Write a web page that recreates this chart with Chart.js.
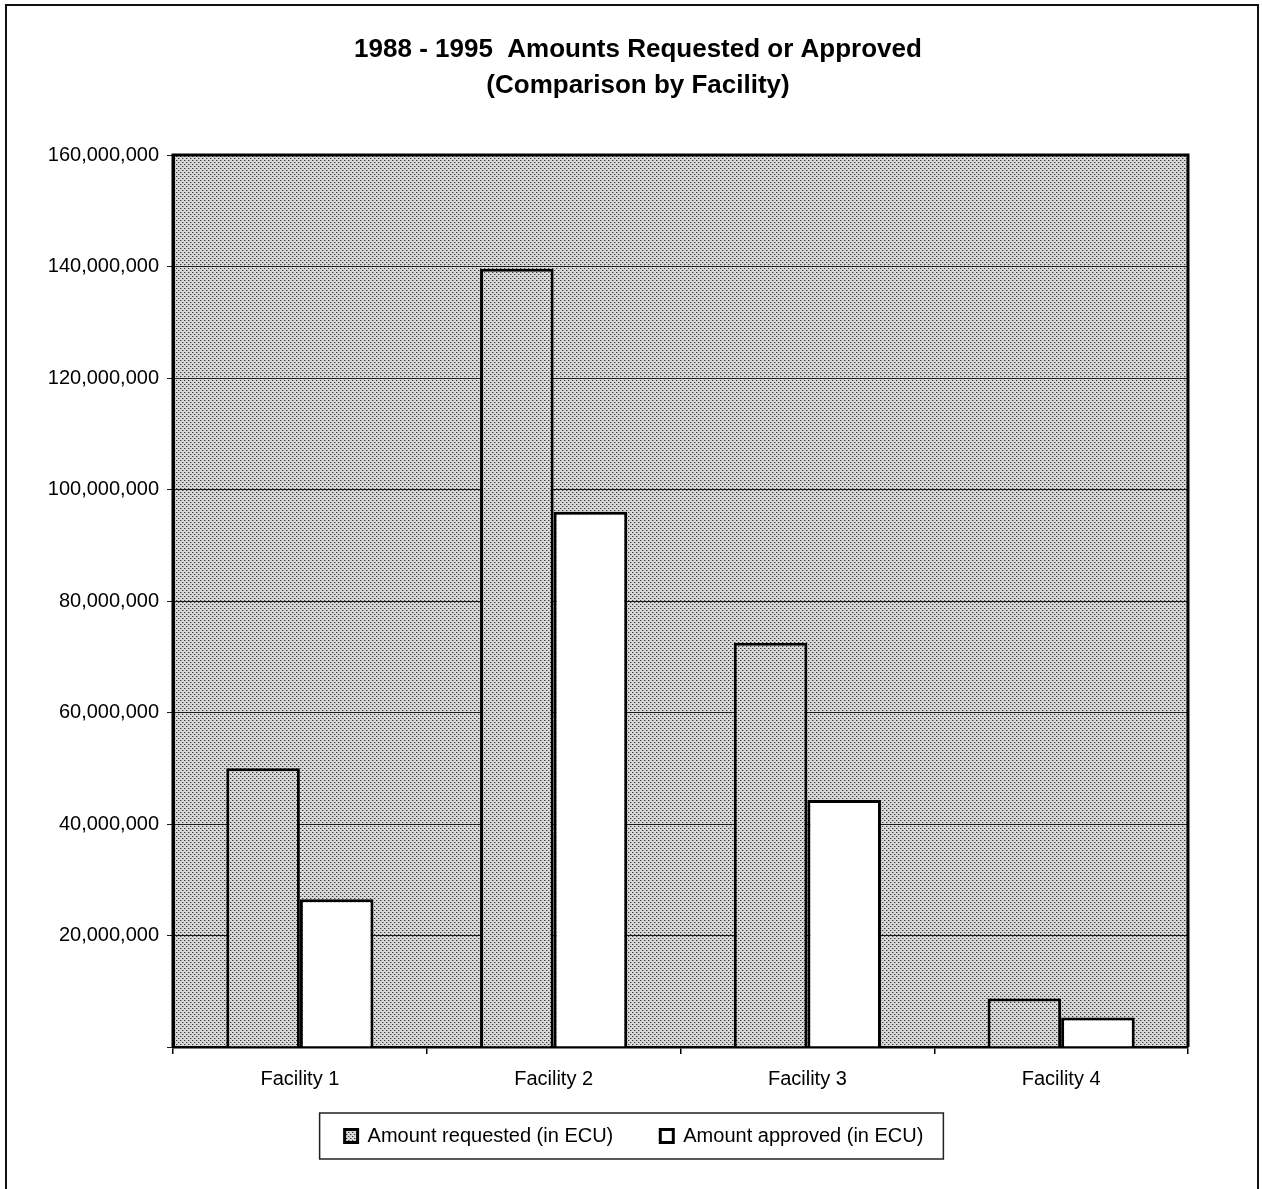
<!DOCTYPE html>
<html>
<head>
<meta charset="utf-8">
<script src="https://cdn.jsdelivr.net/npm/chart.js@4/dist/chart.umd.min.js"></script>
<style>
  html, body { margin: 0; padding: 0; background: #fff; }
  #wrap { position: relative; width: 1262px; height: 1189px; }
</style>
</head>
<body>
<div id="wrap"><canvas id="c" width="1262" height="1189"></canvas></div>
<script>
// Categories and series (ECU)
const facilities = ['Facility 1', 'Facility 2', 'Facility 3', 'Facility 4'];
const amountRequested = [50000000, 139600000, 72500000, 8700000];
const amountApproved = [26500000, 96000000, 44300000, 5300000];
const seriesNames = ['Amount requested (in ECU)', 'Amount approved (in ECU)'];
const titleLines = ['1988 - 1995  Amounts Requested or Approved', '(Comparison by Facility)'];
const yMax = 160000000;
const yStep = 20000000;

const FONT = '"Liberation Sans", Arial, sans-serif';

// Halftone-like dotted fill
function makeDotPattern() {
  const t = document.createElement('canvas');
  t.width = 4; t.height = 4;
  const g = t.getContext('2d');
  g.fillStyle = '#d8d8d8';
  g.fillRect(0, 0, 4, 4);
  g.fillStyle = '#383838';
  g.fillRect(0, 0, 1, 1);
  g.fillRect(2, 2, 1, 1);
  g.fillStyle = '#a0a0a0';
  g.fillRect(1, 0, 1, 1);
  g.fillRect(3, 2, 1, 1);
  return document.getElementById('c').getContext('2d').createPattern(t, 'repeat');
}
const dots = makeDotPattern();

const fmt = v => v.toString().replace(/\B(?=(\d{3})+(?!\d))/g, ',');

// Page frame, title, plot background, plot frame and legend box
const decorations = {
  id: 'decorations',
  afterLayout(chart) {
    // centre the legend under the page rather than under the plot
    const lg = chart.legend;
    const dx = 40, dy = -16;
    lg.left += dx; lg.right += dx;
    lg.top += dy; lg.bottom += dy;
  },
  beforeDraw(chart) {
    const { ctx, chartArea: a } = chart;
    ctx.save();
    ctx.fillStyle = dots;
    ctx.fillRect(a.left, a.top, a.right - a.left, a.bottom - a.top);
    ctx.restore();
  },
  afterDatasetsDraw(chart) {
    const { ctx, chartArea: a } = chart;
    ctx.save();
    ctx.strokeStyle = '#000';
    ctx.lineWidth = 3;
    ctx.beginPath();
    ctx.moveTo(a.left, a.bottom);
    ctx.lineTo(a.left, a.top);
    ctx.lineTo(a.right, a.top);
    ctx.lineTo(a.right, a.bottom);
    ctx.stroke();
    ctx.restore();
  },
  afterDraw(chart) {
    const { ctx } = chart;
    ctx.save();
    // title, centred on the page
    ctx.fillStyle = '#000';
    ctx.font = 'bold 26px ' + FONT;
    ctx.textAlign = 'center';
    ctx.textBaseline = 'middle';
    titleLines.forEach((line, i) => ctx.fillText(line, 638, 50 + i * 36));
    // page frame
    ctx.strokeStyle = '#111';
    ctx.lineWidth = 2;
    ctx.beginPath();
    ctx.moveTo(6, 1189);
    ctx.lineTo(6, 5);
    ctx.lineTo(1258, 5);
    ctx.lineTo(1258, 1189);
    ctx.stroke();
    // legend frame
    const boxes = chart.legend.legendHitBoxes;
    if (boxes && boxes.length) {
      const last = boxes[boxes.length - 1];
      const l = boxes[0].left - 25;
      const r = last.left + last.width + 20;
      const cy = boxes[0].top + boxes[0].height / 2;
      ctx.lineWidth = 1.5;
      ctx.strokeStyle = '#222';
      ctx.strokeRect(l, cy - 23, r - l, 46);
    }
    ctx.restore();
  }
};

new Chart(document.getElementById('c'), {
  type: 'bar',
  data: {
    labels: facilities,
    datasets: [
      {
        label: seriesNames[0],
        data: amountRequested,
        backgroundColor: dots,
        borderColor: '#000',
        borderWidth: 3,
        borderSkipped: 'bottom'
      },
      {
        label: seriesNames[1],
        data: amountApproved,
        backgroundColor: '#fff',
        borderColor: '#000',
        borderWidth: 3,
        borderSkipped: 'bottom'
      }
    ]
  },
  options: {
    responsive: false,
    animation: false,
    layout: { padding: { left: 0, right: 74, top: 155, bottom: 17 } },
    datasets: { bar: { categoryPercentage: 0.58, barPercentage: 1.0 } },
    plugins: {
      title: { display: false },
      legend: {
        position: 'bottom',
        labels: {
          color: '#000',
          font: { family: FONT, size: 20 },
          boxWidth: 13,
          boxHeight: 13,
          padding: 47
        }
      },
      tooltip: { enabled: false }
    },
    scales: {
      x: {
        offset: true,
        grid: {
          display: true,
          offset: true,
          drawOnChartArea: false,
          drawTicks: true,
          tickLength: 7,
          color: '#000',
          lineWidth: 1.5
        },
        border: { display: true, color: '#000', width: 2.5 },
        ticks: {
          color: '#000',
          font: { family: FONT, size: 20 },
          padding: 13,
          maxRotation: 0
        },
        afterFit(scale) { scale.height = 48; }
      },
      y: {
        min: 0,
        max: yMax,
        ticks: {
          stepSize: yStep,
          color: '#000',
          font: { family: FONT, size: 20 },
          padding: 8,
          callback: v => (v === 0 ? '' : fmt(v))
        },
        grid: {
          color: '#1a1a1a',
          lineWidth: 1,
          drawTicks: true,
          tickLength: 6
        },
        border: { display: true, color: '#000', width: 3 },
        afterFit(scale) { scale.width = 173; }
      }
    }
  },
  plugins: [decorations]
});
</script>
</body>
</html>
